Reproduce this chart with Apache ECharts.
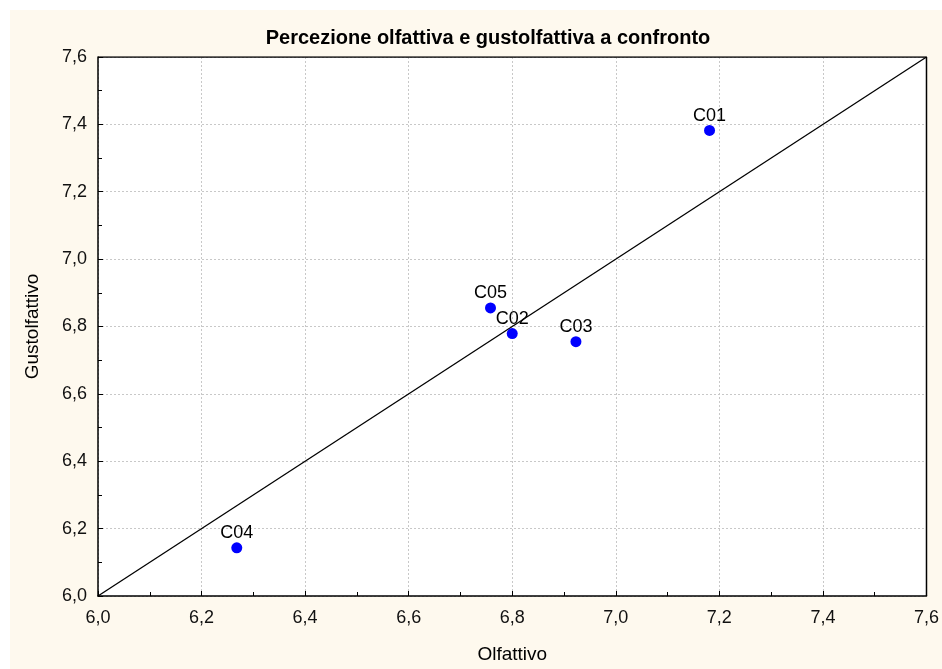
<!DOCTYPE html>
<html>
<head>
<meta charset="utf-8">
<script src="https://cdn.jsdelivr.net/npm/echarts@6/dist/echarts.min.js"></script>
<style>
html,body{margin:0;padding:0;background:#fff;}
#c{width:942px;height:669px;}
</style>
</head>
<body>
<div id="c"></div>
<script>
const sampleNames = ['C01', 'C02', 'C03', 'C04', 'C05'];
const olfattivo = [7.181, 6.800, 6.923, 6.268, 6.758];
const gustolfattivo = [7.382, 6.779, 6.755, 6.143, 6.855];
const refLineX = [6.0, 7.6];
const refLineY = [6.0, 7.6];

const chart = echarts.init(document.getElementById('c'));
const fmt = v => v.toFixed(1).replace('.', ',');
const txt = '#000';
const font = 'Arial, "Liberation Sans", sans-serif';

chart.setOption({
  backgroundColor: '#ffffff',
  animation: false,
  graphic: [{
    type: 'rect', z: -10, silent: true,
    shape: { x: 10, y: 10, width: 932, height: 659 },
    style: { fill: '#fef9ee' }
  }],
  title: {
    text: 'Percezione olfattiva e gustolfattiva a confronto',
    left: 483, top: 23, textAlign: 'center',
    textStyle: { fontFamily: font, fontWeight: 'bold', fontSize: 20, color: txt }
  },
  grid: { left: 98, right: 14, top: 57, bottom: 70, backgroundColor: '#ffffff', show: true, borderWidth: 0 },
  xAxis: {
    type: 'value', min: 6.0, max: 7.6, interval: 0.2,
    name: 'Olfattivo', nameLocation: 'middle', nameGap: 49,
    nameTextStyle: { fontFamily: font, fontSize: 19, color: txt },
    axisLine: { show: true, onZero: false, lineStyle: { color: '#000', width: 1.5 } },
    axisTick: { show: true, inside: true, length: 5, lineStyle: { color: '#000' } },
    minorTick: { show: true, splitNumber: 2, length: 4, lineStyle: { color: '#000' } },
    axisLabel: { formatter: fmt, fontFamily: font, fontSize: 18, color: '#111', margin: 13 },
    splitLine: { show: true, lineStyle: { color: '#c8c8c8', type: [2, 2], width: 1 } }
  },
  yAxis: {
    type: 'value', min: 6.0, max: 7.6, interval: 0.2,
    name: 'Gustolfattivo', nameLocation: 'middle', nameGap: 56,
    nameTextStyle: { fontFamily: font, fontSize: 19, color: txt },
    axisLine: { show: true, onZero: false, lineStyle: { color: '#000', width: 1.5 } },
    axisTick: { show: true, inside: true, length: 5, lineStyle: { color: '#000' } },
    minorTick: { show: true, splitNumber: 2, length: 4, lineStyle: { color: '#000' } },
    axisLabel: { formatter: fmt, fontFamily: font, fontSize: 18, color: '#111', margin: 11 },
    splitLine: { show: true, lineStyle: { color: '#c8c8c8', type: [2, 2], width: 1 } }
  },
  series: [
    {
      type: 'line',
      data: refLineX.map((x, i) => [x, refLineY[i]]),
      symbol: 'none',
      lineStyle: { color: '#000', width: 1.3 },
      z: 3
    },
    {
      type: 'line',
      data: [[7.6, 6.0], [7.6, 7.6], [6.0, 7.6]],
      symbol: 'none',
      lineStyle: { color: '#000', width: 1.5 },
      z: 3
    },
    {
      type: 'scatter',
      data: olfattivo.map((x, i) => ({ value: [x, gustolfattivo[i]], name: sampleNames[i] })),
      symbol: 'circle', symbolSize: 11,
      itemStyle: { color: '#0000ff', opacity: 1 },
      label: {
        show: true, position: 'top', distance: 0,
        formatter: p => p.name,
        fontFamily: font, fontSize: 18, color: txt
      },
      z: 5
    }
  ]
});
</script>
</body>
</html>
